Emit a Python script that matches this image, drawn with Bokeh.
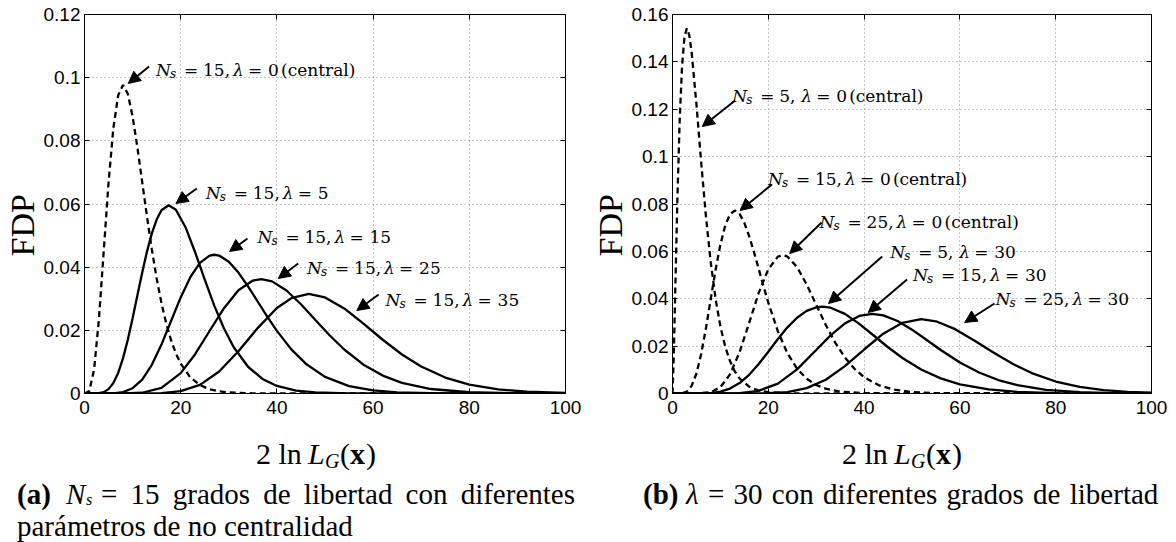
from bokeh.plotting import figure
from bokeh.models import Label, Arrow, NormalHead, LinearAxis, FixedTicker, Range1d, Div
from bokeh.layouts import row, column
from bokeh.embed import file_html
from bokeh.resources import INLINE

# ---------------- data ----------------
# panel (a): N_s = 15, different non-centrality
a_x_central = [0, 1, 2, 3, 4, 5, 6, 7, 8, 9, 10, 11, 12, 13, 14, 15, 16, 17, 18, 19, 20,
               22, 24, 26, 28, 30, 35, 40, 50, 100]
a_y_central = [0, 0.00079, 0.00766, 0.02353, 0.04511, 0.06680, 0.08402, 0.09440, 0.09768,
               0.09490, 0.08773, 0.07791, 0.06693, 0.05591, 0.04561, 0.03645, 0.02863,
               0.02213, 0.01687, 0.01270, 0.00946, 0.00509, 0.00265, 0.00134, 0.00067,
               0.00032, 0.00005, 0.00001, 0, 0]

a_x_lam5 = [0, 2, 3, 4, 5, 6, 7, 8, 9, 10, 11, 12, 13, 14, 15, 16, 17.5, 19, 21, 23, 25,
            27, 29, 31, 34, 37, 40, 44, 48, 55, 65, 100]
a_y_lam5 = [0, 0.00001, 0.00009, 0.00043, 0.00138, 0.00330, 0.00651, 0.01112, 0.01699,
            0.02382, 0.03111, 0.03834, 0.04501, 0.05069, 0.05507, 0.05800, 0.05960,
            0.05817, 0.05266, 0.04473, 0.03603, 0.02775, 0.02056, 0.01473, 0.00847,
            0.00461, 0.00240, 0.00094, 0.00035, 0.00006, 0, 0]

a_x_lam15 = [0, 4, 6, 8, 10, 12, 14, 16, 18, 20, 22, 24, 26, 27, 28, 30, 32, 34, 36, 38,
             40, 43, 46, 50, 55, 60, 65, 72, 80, 100]
a_y_lam15 = [0, 0, 0.00006, 0.00044, 0.00167, 0.00441, 0.00907, 0.01549, 0.02295, 0.03042,
             0.03682, 0.04137, 0.04365, 0.04393, 0.04367, 0.04171, 0.03828, 0.03392,
             0.02913, 0.02433, 0.01982, 0.01398, 0.00944, 0.00527, 0.00235, 0.00097,
             0.00038, 0.00009, 0.00001, 0]

a_x_lam25 = [0, 8, 12, 16, 20, 23, 26, 29, 32, 35, 36.75, 39, 42, 45, 48, 51, 54, 58, 62,
             66, 72, 80, 90, 100]
a_y_lam25 = [0, 0.00001, 0.00024, 0.00177, 0.00645, 0.01245, 0.01979, 0.02702, 0.03268,
             0.03576, 0.03624, 0.03551, 0.03261, 0.02827, 0.02330, 0.01837, 0.01393,
             0.00913, 0.00567, 0.00336, 0.00142, 0.00040, 0.00007, 0.00001]

a_x_lam35 = [0, 12, 16, 20, 24, 28, 32, 36, 40, 43, 46.6, 50, 54, 58, 62, 66, 70, 75, 80,
             86, 92, 100]
a_y_lam35 = [0, 0.00001, 0.00011, 0.00073, 0.00273, 0.00695, 0.01337, 0.02071, 0.02707,
             0.03018, 0.03151, 0.03043, 0.02695, 0.02213, 0.01702, 0.01236, 0.00854,
             0.00505, 0.00281, 0.00130, 0.00056, 0.00017]

# panel (b): lambda = 30, different degrees of freedom
b_x_c5 = [0, 0.25, 0.5, 1, 1.5, 2, 2.5, 3, 3.5, 4, 5, 6, 7, 8, 9, 10, 11, 12, 13, 14, 16,
          18, 20, 25, 30, 100]
b_y_c5 = [0, 0.01467, 0.03662, 0.08066, 0.11540, 0.13837, 0.15060, 0.15418, 0.15131,
          0.14398, 0.12204, 0.09730, 0.07437, 0.05511, 0.03989, 0.02833, 0.01983, 0.01370,
          0.00937, 0.00635, 0.00286, 0.00125, 0.00054, 0.00006, 0, 0]

b_x_c15 = [0, 2, 3, 4, 5, 6, 7, 8, 9, 10, 11, 12, 13, 14, 15, 16, 17, 18, 19, 20, 22, 24,
           26, 28, 30, 32, 35, 40, 45, 50, 100]
b_y_c15 = [0, 0.00010, 0.00083, 0.00327, 0.00846, 0.01680, 0.02775, 0.04009, 0.05228,
           0.06290, 0.07088, 0.07569, 0.07724, 0.07584, 0.07203, 0.06646, 0.05978, 0.05257,
           0.04531, 0.03836, 0.02622, 0.01698, 0.01051, 0.00626, 0.00361, 0.00202, 0.00081,
           0.00016, 0.00003, 0, 0]

b_x_c25 = [0, 5, 8, 10, 12, 14, 16, 18, 20, 22, 23, 24, 26, 28, 30, 32, 34, 36, 38, 40, 43,
           46, 50, 55, 60, 65, 100]
b_y_c25 = [0, 0.00001, 0.00056, 0.00269, 0.00805, 0.01744, 0.02979, 0.04247, 0.05248,
           0.05777, 0.05842, 0.05780, 0.05339, 0.04606, 0.03746, 0.02895, 0.02138, 0.01518,
           0.01040, 0.00690, 0.00354, 0.00171, 0.00061, 0.00015, 0.00003, 0, 0]

b_x_n5 = [0, 4, 6, 8, 10, 12, 14, 16, 18, 20, 22, 24, 26, 28, 30, 31.29, 33, 36, 39, 42, 45,
          48, 52, 56, 60, 66, 72, 80, 90, 100]
b_y_n5 = [0, 0, 0.00003, 0.00020, 0.00076, 0.00206, 0.00440, 0.00791, 0.01245, 0.01765,
          0.02299, 0.02793, 0.03199, 0.03486, 0.03638, 0.03665, 0.03621, 0.03360, 0.02941,
          0.02448, 0.01952, 0.01499, 0.01002, 0.00638, 0.00388, 0.00172, 0.00071, 0.00020,
          0.00004, 0]

b_x_n15 = [0, 10, 14, 18, 22, 26, 30, 33, 36, 39, 41.67, 44, 47, 50, 53, 56, 60, 64, 68, 72,
           78, 85, 92, 100]
b_y_n15 = [0, 0.00001, 0.00016, 0.00113, 0.00419, 0.01018, 0.01834, 0.02454, 0.02960,
           0.03273, 0.03362, 0.03299, 0.03059, 0.02696, 0.02270, 0.01837, 0.01311, 0.00885,
           0.00569, 0.00350, 0.00157, 0.00056, 0.00019, 0.00005]

b_x_n25 = [0, 16, 20, 24, 28, 32, 36, 40, 44, 48, 51.91, 55, 59, 63, 67, 71, 75, 80, 85, 90,
           95, 100]
b_y_n25 = [0, 0.00001, 0.00011, 0.00062, 0.00226, 0.00583, 0.01155, 0.01857, 0.02523,
           0.02983, 0.03136, 0.03048, 0.02716, 0.02241, 0.01727, 0.01254, 0.00863, 0.00506,
           0.00278, 0.00144, 0.00071, 0.00033]

x_ticks = [0, 20, 40, 60, 80, 100]
x_tick_labels = ["0", "20", "40", "60", "80", "100"]
a_y_ticks = [0, 0.02, 0.04, 0.06, 0.08, 0.1, 0.12]
a_y_tick_labels = ["0", "0.02", "0.04", "0.06", "0.08", "0.1", "0.12"]
b_y_ticks = [0, 0.02, 0.04, 0.06, 0.08, 0.1, 0.12, 0.14, 0.16]
b_y_tick_labels = ["0", "0.02", "0.04", "0.06", "0.08", "0.1", "0.12", "0.14", "0.16"]

a_note_ns = ["15", "15", "15", "15", "15"]
a_note_lambda = ["0", "5", "15", "25", "35"]
b_note_ns = ["5", "15", "25", "5", "15", "25"]
b_note_lambda = ["0", "0", "0", "30", "30", "30"]

y_title = "FDP"
caption_a_tag = "(a)"
caption_a_line1 = "= 15 grados de libertad con diferentes"
caption_a_line2 = "parámetros de no centralidad"
caption_b_tag = "(b)"
caption_b_rest = "= 30 con diferentes grados de libertad"

SERIF = "Liberation Serif"
NOTE_FONT = "DejaVu Serif"
SANS = "Liberation Sans"
FRAME_TOP, FRAME_BOTTOM = 14, 393
PANEL_H = 430


def make_panel(ymax, yt, ytl, left, right):
    p = figure(width=588, height=PANEL_H, x_range=Range1d(0, 100), y_range=Range1d(0, ymax),
               output_backend="svg", toolbar_location=None,
               min_border_left=left, min_border_right=right,
               min_border_top=FRAME_TOP, min_border_bottom=PANEL_H - FRAME_BOTTOM,
               background_fill_color="white", border_fill_color="white")
    p.outline_line_color = "black"
    p.outline_line_width = 1
    p.outline_line_alpha = 1
    xt = FixedTicker(ticks=x_ticks)
    ytk = FixedTicker(ticks=yt)
    p.xaxis.ticker = xt
    p.yaxis.ticker = ytk
    p.xaxis.major_label_overrides = {t: l for t, l in zip(x_ticks, x_tick_labels)}
    p.yaxis.major_label_overrides = {t: l for t, l in zip(yt, ytl)}
    for ax in (p.xaxis[0], p.yaxis[0]):
        ax.major_tick_in = 5
        ax.major_tick_out = 0
        ax.minor_tick_line_color = None
        ax.axis_line_color = "black"
        ax.major_tick_line_color = "black"
        ax.major_label_text_font = SANS
        ax.major_label_text_font_size = "19px"
        ax.major_label_text_color = "black"
    p.xaxis.major_label_standoff = 7
    p.yaxis.major_label_standoff = 4
    # trailing no-break spaces push the centred title slightly down, as in the reference
    p.yaxis.axis_label = y_title + "\u00a0" * 5
    p.yaxis.axis_label_text_font = SERIF
    p.yaxis.axis_label_text_font_style = "normal"
    p.yaxis.axis_label_text_font_size = "34px"
    p.yaxis.axis_label_text_color = "black"
    p.yaxis.axis_label_standoff = 0
    p.xgrid.ticker = xt
    p.ygrid.ticker = ytk
    p.grid.grid_line_color = "#8f8f8f"
    p.grid.grid_line_dash = "1 3"
    p.grid.grid_line_width = 1
    for loc, tk in (("above", xt), ("right", ytk)):
        ax = LinearAxis(ticker=tk, major_tick_in=5, major_tick_out=0,
                        minor_tick_line_color=None, axis_line_color=None,
                        major_label_text_font_size="0px", major_label_standoff=0,
                        major_tick_line_color="black")
        ax.major_label_overrides = {t: "" for t in tk.ticks}
        p.add_layout(ax, loc)
    return p


def converters(x0, x1, ymax):
    X = lambda px: (px - x0) * 100.0 / (x1 - x0)
    Y = lambda py: (FRAME_BOTTOM - py) * ymax / (FRAME_BOTTOM - FRAME_TOP)
    return X, Y


def curve(p, xs, ys, dashed=False):
    p.line(xs, ys, line_color="black", line_width=2.3,
           line_dash="6 4" if dashed else "solid")


def lab(p, x, y, text, size, style="normal", font=NOTE_FONT, dx=0, dy=0):
    p.add_layout(Label(x=x, y=y, x_offset=dx, y_offset=dy, text=text, text_font=font,
                       text_font_style=style, text_font_size=f"{size}px",
                       text_baseline="middle", text_align="left", text_color="black"))


def note(p, X, Y, text_px, text_py, tail, head, ns, lam):
    x, y = X(text_px), Y(text_py)
    sh = 0 if len(ns) == 2 else -8
    lab(p, x, y, "N", 17, "italic")
    lab(p, x, y, "s", 12, "italic", dx=14, dy=-4)
    lab(p, x, y, "=", 17, dx=28)
    lab(p, x, y, ns + ",", 17, dx=47)
    lab(p, x, y, "λ", 17, "italic", dx=77 + sh)
    lab(p, x, y, "=", 17, dx=92 + sh)
    lab(p, x, y, lam, 17, dx=112 + sh)
    if lam == "0":
        lab(p, x, y, "(central)", 17, dx=125 + sh)
    p.add_layout(Arrow(end=NormalHead(size=12, fill_color="black", line_color="black"),
                       x_start=X(tail[0]), y_start=Y(tail[1]),
                       x_end=X(head[0]), y_end=Y(head[1]),
                       line_width=2, line_color="black"))


def piece(text, left, top, size, style="", extra="", lh=30):
    return (f'<div style="position:absolute;left:{left}px;top:{top}px;font-size:{size}px;'
            f'line-height:{lh}px;white-space:nowrap;{style}{extra}">{text}</div>')


IT = "font-style:italic;"
BF = "font-weight:bold;"


def xlabel_html(left):
    return (piece("2 ln", left, 9, 30)
            + piece("L", left + 52, 9, 30, IT)
            + piece("G", left + 69, 16, 20, IT)
            + piece("(", left + 84, 9, 30)
            + piece("x", left + 94, 9, 30, BF)
            + piece(")", left + 110, 9, 30))


def text_div(inner):
    html = ('<div style="position:relative;width:588px;height:112px;'
            "font-family:'Liberation Serif',serif;color:#000;\">" + inner + '</div>')
    return Div(text=html, width=588, height=542 - PANEL_H, margin=(0, 0, 0, 0))


# ---------------- panel (a) ----------------
pa = make_panel(0.12, a_y_ticks, a_y_tick_labels, 81, 23)
Xa, Ya = converters(81, 565, 0.12)
curve(pa, a_x_central, a_y_central, dashed=True)
curve(pa, a_x_lam5, a_y_lam5)
curve(pa, a_x_lam15, a_y_lam15)
curve(pa, a_x_lam25, a_y_lam25)
curve(pa, a_x_lam35, a_y_lam35)

a_note_pos = [((153, 69), (146, 66), (125, 83)),
              ((203, 192), (194, 188), (173, 203)),
              ((255, 236), (245, 238), (227, 251)),
              ((305, 267), (296, 263), (276, 278)),
              ((384, 299), (377, 294), (355, 310))]
for ns, lam, (tp, tl, hd) in zip(a_note_ns, a_note_lambda, a_note_pos):
    note(pa, Xa, Ya, tp[0], tp[1], tl, hd, ns, lam)

div_a = text_div(
    xlabel_html(256)
    + piece(caption_a_tag, 17, 49, 29, BF)
    + piece("N", 66, 49, 29, IT)
    + piece("s", 86, 63, 16, IT, lh=14)
    + piece(caption_a_line1, 101, 49, 29, "",
            "width:474px;text-align:justify;text-align-last:justify;")
    + piece(caption_a_line2, 17, 81, 29))

# ---------------- panel (b) ----------------
pb = make_panel(0.16, b_y_ticks, b_y_tick_labels, 81, 25)
Xb, Yb = converters(669, 1151, 0.16)
curve(pb, b_x_c5, b_y_c5, dashed=True)
curve(pb, b_x_c15, b_y_c15, dashed=True)
curve(pb, b_x_c25, b_y_c25, dashed=True)
curve(pb, b_x_n5, b_y_n5)
curve(pb, b_x_n15, b_y_n15)
curve(pb, b_x_n25, b_y_n25)

b_note_pos = [((729, 95), (732, 100), (699, 126)),
              ((765, 178), (769, 184), (737, 210)),
              ((817, 221), (819, 222), (787, 253)),
              ((888, 251), (880, 256), (826, 303)),
              ((911, 274), (905, 279), (866, 312)),
              ((994, 298), (993, 303), (963, 322))]
for ns, lam, (tp, tl, hd) in zip(b_note_ns, b_note_lambda, b_note_pos):
    note(pb, Xb, Yb, tp[0], tp[1], tl, hd, ns, lam)

div_b = text_div(
    xlabel_html(254)
    + piece(caption_b_tag, 55, 49, 29, BF)
    + piece("λ", 98, 49, 29, IT)
    + piece(caption_b_rest, 120, 49, 29, "", "word-spacing:2px;"))

layout = row(column(pa, div_a), column(pb, div_b))
open("out.html", "w").write(file_html(layout, INLINE))
